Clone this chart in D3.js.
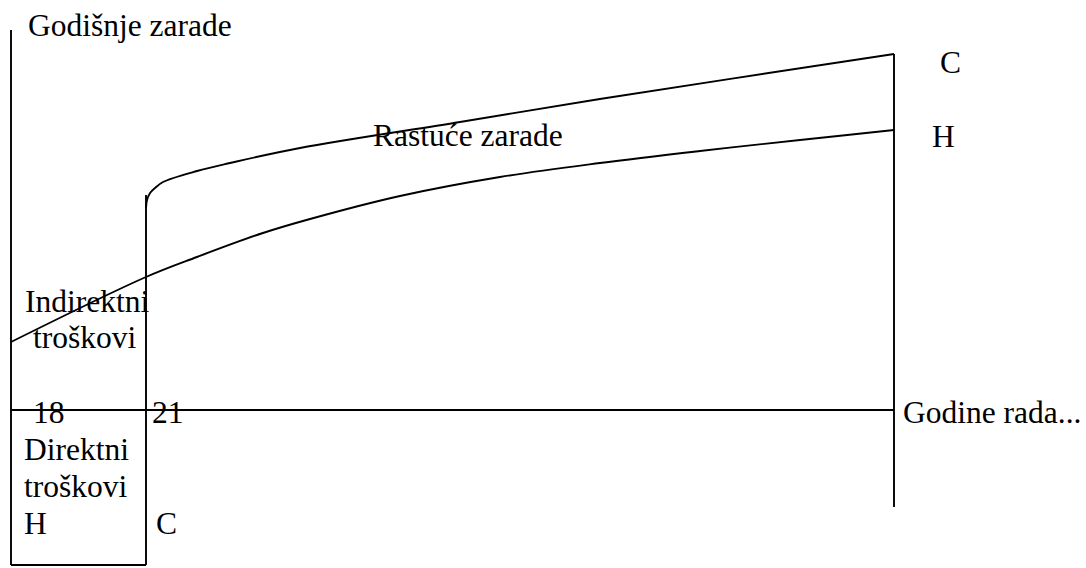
<!DOCTYPE html>
<html>
<head>
<meta charset="utf-8">
<script src="https://cdn.jsdelivr.net/npm/d3@7"></script>
<style>
  body { margin: 0; background: #fff; }
  svg { display: block; }
  text { font-family: "Liberation Serif", "Times New Roman", serif; font-size: 31.5px; fill: #000; }
</style>
</head>
<body>
<div id="chart-container"></div>
<script>
// schematic data: age (years) -> annual earnings (arbitrary units)
const ageMarks = [18, 21, 65];
const collegeAges = [21, 21.06, 21.24, 21.53, 22, 24, 25.94, 30.06, 39.47, 47.7, 65];
const collegeEarn = [202, 210, 217, 222, 228, 239, 247, 262, 288, 311, 356];
const hsAges = [18, 21, 24, 27.88, 30.65, 35.94, 41.82, 47.7, 53.59, 59.47, 65];
const hsEarn = [68, 133, 153, 177, 191, 214, 233, 247, 259, 270, 280];
const tickLabels = ['18', '21'];

const width = 1086;
const height = 568;

const svg = d3.select('#chart-container')
  .append('svg')
  .attr('width', width)
  .attr('height', height);

// piecewise scale: the sketch is not proportional in time
const xScale = d3.scaleLinear()
  .domain(ageMarks)
  .range([11, 146, 894]);

const yScale = d3.scaleLinear()
  .domain([-155, 410])
  .range([565, 0]);

const line = d3.line()
  .x(d => xScale(d[0]))
  .y(d => yScale(d[1]))
  .curve(d3.curveCatmullRom.alpha(0.5));

const stroke = { color: '#000', w: 1.9 };

// vertical lines: y-axis, college start, retirement
const verticals = [
  { age: 18, from: -155, to: 380 },
  { age: 21, from: -155, to: 215 },
  { age: 65, from: -97, to: 356 }
];

svg.selectAll('.vline')
  .data(verticals)
  .enter()
  .append('line')
  .attr('class', 'vline')
  .attr('x1', d => xScale(d.age))
  .attr('x2', d => xScale(d.age))
  .attr('y1', d => yScale(d.from))
  .attr('y2', d => yScale(d.to))
  .attr('stroke', stroke.color)
  .attr('stroke-width', stroke.w);

// x axis (years of work) and bottom of the direct-cost box
const horizontals = [
  { from: 18, to: 65, v: 0 },
  { from: 18, to: 21, v: -155 }
];

svg.selectAll('.hline')
  .data(horizontals)
  .enter()
  .append('line')
  .attr('class', 'hline')
  .attr('x1', d => xScale(d.from))
  .attr('x2', d => xScale(d.to))
  .attr('y1', d => yScale(d.v))
  .attr('y2', d => yScale(d.v))
  .attr('stroke', stroke.color)
  .attr('stroke-width', stroke.w);

// earnings curves
const series = [
  d3.zip(collegeAges, collegeEarn),
  d3.zip(hsAges, hsEarn)
];

svg.selectAll('.curve')
  .data(series)
  .enter()
  .append('path')
  .attr('class', 'curve')
  .attr('d', line)
  .attr('fill', 'none')
  .attr('stroke', stroke.color)
  .attr('stroke-width', stroke.w);

// text labels
const labels = [
  { t: 'Godišnje zarade', x: 28, y: 36 },
  { t: 'Rastuće zarade', x: 373, y: 146 },
  { t: 'C', x: 940, y: 73 },
  { t: 'H', x: 932, y: 147 },
  { t: 'Godine rada...', x: 903, y: 423 },
  { t: 'Indirektni', x: 25, y: 312 },
  { t: 'troškovi', x: 33, y: 348 },
  { t: 'Direktni', x: 24, y: 460 },
  { t: 'troškovi', x: 24, y: 497 },
  { t: 'H', x: 24, y: 534 },
  { t: 'C', x: 156, y: 534 }
];

svg.selectAll('.lbl')
  .data(labels)
  .enter()
  .append('text')
  .attr('class', 'lbl')
  .attr('x', d => d.x)
  .attr('y', d => d.y)
  .text(d => d.t);

// age tick labels
svg.selectAll('.tick-lbl')
  .data(tickLabels)
  .enter()
  .append('text')
  .attr('class', 'tick-lbl')
  .attr('x', (d, i) => xScale(+d) + (i === 0 ? 22 : 6))
  .attr('y', yScale(0) + 13)
  .text(d => d);
</script>
</body>
</html>
